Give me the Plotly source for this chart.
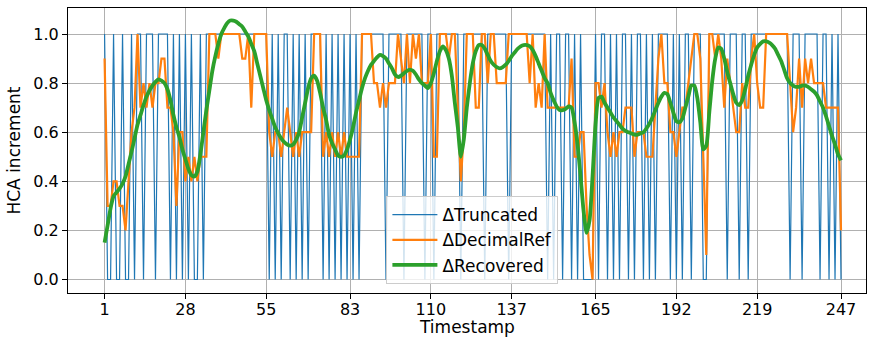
import plotly.graph_objects as go

timestamps = list(range(1, 248))

truncated = [
    1, 0, 0, 1, 0, 0, 1, 0, 0, 1,   # 1-10
    0, 1, 1, 0, 1, 1, 1, 0, 1, 1,   # 11-20
    1, 1, 0, 1, 0, 1, 0, 1, 0, 1,   # 21-30
    0, 0, 1, 0, 1, 1, 1, 1, 1, 1,   # 31-40
    1, 1, 1, 1, 1, 1, 1, 1, 1, 1,   # 41-50
    1, 1, 1, 1, 1, 0, 1, 0, 1, 0,   # 51-60
    1, 1, 0, 1, 0, 1, 0, 1, 0, 1,   # 61-70
    1, 1, 1, 0, 1, 0, 1, 0, 1, 0,   # 71-80
    1, 0, 1, 0, 1, 0, 1, 1, 1, 1,   # 81-90
    1, 1, 1, 1, 0, 1, 1, 1, 1, 1,   # 91-100
    0, 1, 1, 1, 1, 1, 1, 0, 1, 1,   # 101-110
    0, 1, 1, 1, 1, 1, 1, 1, 1, 0,   # 111-120
    1, 1, 1, 1, 1, 1, 1, 0, 1, 1,   # 121-130
    1, 1, 1, 1, 1, 0, 1, 1, 1, 1,   # 131-140
    1, 1, 1, 1, 1, 1, 1, 1, 0, 1,   # 141-150
    0, 1, 1, 0, 1, 1, 0, 1, 0, 1,   # 151-160
    0, 0, 0, 0, 1, 0, 1, 1, 0, 1,   # 161-170
    0, 1, 0, 1, 1, 0, 1, 0, 1, 1,   # 171-180
    0, 1, 0, 1, 0, 1, 1, 1, 1, 0,   # 181-190
    1, 0, 1, 0, 1, 1, 0, 1, 1, 1,   # 191-200
    0, 0, 1, 1, 1, 1, 1, 1, 0, 1,   # 201-210
    1, 1, 0, 1, 1, 0, 1, 1, 1, 1,   # 211-220
    1, 1, 1, 1, 1, 1, 1, 1, 1, 0,   # 221-230
    1, 1, 1, 0, 1, 1, 1, 1, 1, 0,   # 231-240
    1, 1, 0, 1, 0, 1, 0,            # 241-247
]

decimal_ref = [
    0.9, 0.3, 0.3, 0.4, 0.4, 0.3, 0.3, 0.2, 0.4, 0.6,   # 1-10
    0.7, 1.0, 0.7, 0.8, 0.7, 0.8, 0.7, 0.8, 0.8, 0.9,   # 11-20
    0.9, 0.7, 0.7, 0.6, 0.3, 0.6, 0.6, 0.4, 0.5, 0.4,   # 21-30
    0.5, 0.4, 0.5, 0.5, 0.5, 1.0, 1.0, 1.0, 0.9, 1.0,   # 31-40
    1.0, 1.0, 1.0, 1.0, 1.0, 1.0, 0.9, 0.9, 1.0, 0.7,   # 41-50
    1.0, 1.0, 1.0, 1.0, 1.0, 0.6, 0.5, 0.6, 0.6, 0.5,   # 51-60
    0.6, 0.7, 0.6, 0.5, 0.6, 0.5, 0.6, 0.6, 0.6, 0.6,   # 61-70
    1.0, 1.0, 1.0, 0.5, 0.6, 0.5, 0.6, 0.5, 0.6, 0.5,   # 71-80
    0.6, 0.5, 0.5, 0.5, 0.5, 0.5, 1.0, 1.0, 1.0, 1.0,   # 81-90
    0.8, 0.8, 0.7, 0.8, 0.7, 0.8, 0.8, 0.8, 1.0, 0.9,   # 91-100
    0.8, 1.0, 0.8, 1.0, 0.9, 1.0, 0.8, 0.8, 0.8, 1.0,   # 101-110
    0.5, 0.5, 1.0, 1.0, 1.0, 0.9, 1.0, 1.0, 0.7, 0.4,   # 111-120
    0.6, 1.0, 1.0, 1.0, 0.7, 0.7, 1.0, 1.0, 0.8, 1.0,   # 121-130
    1.0, 0.8, 0.8, 0.8, 0.8, 1.0, 1.0, 1.0, 1.0, 1.0,   # 131-140
    1.0, 1.0, 0.8, 1.0, 0.7, 0.8, 0.7, 1.0, 0.7, 0.7,   # 141-150
    0.7, 0.7, 0.7, 0.7, 0.7, 0.7, 0.9, 0.5, 0.5, 0.6,   # 151-160
    0.6, 0.3, 0.1, 0.0, 0.8, 0.8, 0.7, 0.8, 0.6, 0.5,   # 161-170
    0.6, 0.5, 0.6, 0.6, 0.7, 0.7, 0.7, 0.5, 0.6, 0.6,   # 171-180
    0.6, 0.5, 0.5, 0.5, 0.7, 0.9, 1.0, 0.8, 0.8, 0.6,   # 181-190
    0.6, 0.5, 0.6, 0.7, 0.7, 0.8, 0.9, 1.0, 1.0, 0.9,   # 191-200
    0.5, 0.1, 1.0, 1.0, 0.9, 1.0, 0.9, 0.7, 0.9, 0.8,   # 201-210
    0.7, 0.6, 0.6, 0.8, 0.7, 0.7, 0.9, 1.0, 0.8, 0.7,   # 211-220
    0.7, 1.0, 1.0, 1.0, 1.0, 1.0, 1.0, 1.0, 1.0, 0.8,   # 221-230
    0.6, 0.7, 0.9, 0.7, 0.9, 0.8, 0.9, 0.8, 0.8, 0.8,   # 231-240
    0.8, 0.7, 0.7, 0.7, 0.7, 0.7, 0.2,                  # 241-247
]

recovered = [
    0.15, 0.22, 0.29, 0.34, 0.355, 0.37, 0.39, 0.42, 0.47, 0.52,        # 1-10
    0.575, 0.63, 0.67, 0.71, 0.745, 0.77, 0.79, 0.805, 0.815, 0.81,     # 11-20
    0.80, 0.775, 0.73, 0.67, 0.62, 0.58, 0.53, 0.49, 0.45, 0.425,       # 21-30
    0.42, 0.44, 0.51, 0.60, 0.69, 0.77, 0.85, 0.91, 0.96, 1.00,         # 31-40
    1.025, 1.045, 1.055, 1.055, 1.05, 1.04, 1.03, 1.01, 0.99, 0.96,     # 41-50
    0.93, 0.88, 0.83, 0.78, 0.73, 0.69, 0.655, 0.62, 0.595, 0.575,      # 51-60
    0.56, 0.55, 0.545, 0.55, 0.57, 0.60, 0.66, 0.72, 0.78, 0.82,        # 61-70
    0.83, 0.81, 0.76, 0.70, 0.65, 0.59, 0.555, 0.53, 0.505, 0.50,       # 71-80
    0.505, 0.53, 0.57, 0.62, 0.68, 0.73, 0.78, 0.82, 0.85, 0.875,       # 81-90
    0.89, 0.905, 0.915, 0.91, 0.90, 0.88, 0.86, 0.835, 0.825, 0.83,     # 91-100
    0.84, 0.85, 0.855, 0.85, 0.835, 0.815, 0.80, 0.79, 0.78, 0.80,      # 101-110
    0.84, 0.89, 0.93, 0.95, 0.935, 0.90, 0.83, 0.72, 0.62, 0.50,        # 111-120
    0.57, 0.70, 0.80, 0.88, 0.93, 0.955, 0.955, 0.94, 0.915, 0.89,      # 121-130
    0.875, 0.865, 0.86, 0.865, 0.875, 0.89, 0.91, 0.925, 0.94, 0.95,    # 131-140
    0.955, 0.955, 0.95, 0.935, 0.91, 0.88, 0.85, 0.82, 0.80, 0.76,      # 141-150
    0.73, 0.705, 0.69, 0.69, 0.695, 0.705, 0.70, 0.64, 0.55, 0.42,      # 151-160
    0.28, 0.19, 0.24, 0.42, 0.63, 0.74, 0.745, 0.72, 0.70, 0.68,        # 161-170
    0.66, 0.645, 0.63, 0.615, 0.605, 0.60, 0.595, 0.59, 0.59, 0.595,    # 171-180
    0.60, 0.615, 0.635, 0.66, 0.69, 0.72, 0.745, 0.76, 0.755, 0.72,     # 181-190
    0.68, 0.645, 0.64, 0.655, 0.70, 0.745, 0.79, 0.79, 0.74, 0.64,      # 191-200
    0.53, 0.545, 0.68, 0.81, 0.90, 0.945, 0.94, 0.90, 0.845, 0.80,      # 201-210
    0.755, 0.72, 0.71, 0.73, 0.775, 0.83, 0.875, 0.915, 0.945, 0.96,    # 211-220
    0.97, 0.97, 0.965, 0.955, 0.94, 0.915, 0.89, 0.855, 0.82, 0.80,     # 221-230
    0.79, 0.785, 0.785, 0.79, 0.79, 0.785, 0.775, 0.765, 0.75, 0.725,   # 231-240
    0.70, 0.665, 0.625, 0.585, 0.55, 0.51, 0.485,                       # 241-247
]

x_tick_vals = [1, 28, 55, 83, 110, 137, 165, 192, 219, 247]
y_tick_vals = [0.0, 0.2, 0.4, 0.6, 0.8, 1.0]

FONT = "DejaVu Sans"

fig = go.Figure()
fig.add_trace(go.Scatter(x=timestamps, y=truncated, mode="lines", name="ΔTruncated",
                         line=dict(color="#1f77b4", width=1.2), legendgroup="a"))
fig.add_trace(go.Scatter(x=timestamps, y=decimal_ref, mode="lines", name="ΔDecimalRef",
                         line=dict(color="#ff7f0e", width=2.2), legendgroup="b"))
fig.add_trace(go.Scatter(x=timestamps, y=recovered, mode="lines", name="ΔRecovered",
                         line=dict(color="#2ca02c", width=3.8, shape="spline", smoothing=0.6),
                         legendgroup="c"))

axis_common = dict(
    showline=True, linecolor="black", linewidth=1, mirror=True,
    showgrid=True, gridcolor="#b0b0b0", gridwidth=0.8,
    ticks="outside", ticklen=5, tickcolor="black", tickwidth=1,
    zeroline=False, automargin=False,
    tickfont=dict(family=FONT, size=16, color="black"),
)

fig.update_layout(
    width=874, height=340,
    margin=dict(l=68, r=8, t=8, b=47),
    paper_bgcolor="white", plot_bgcolor="white",
    font=dict(family=FONT, size=16, color="black"),
    showlegend=True,
    legend=dict(
        x=0.399, y=0.031, xanchor="left", yanchor="bottom",
        bgcolor="rgba(255,255,255,0.8)", bordercolor="#cccccc", borderwidth=1,
        font=dict(family=FONT, size=17, color="black"),
        tracegroupgap=0, itemwidth=45,
    ),
    xaxis=dict(
        range=[-11.22, 255.35],
        tickmode="array", tickvals=x_tick_vals, ticktext=[str(v) for v in x_tick_vals],
        ticklabelstandoff=-3,
        **axis_common,
    ),
    yaxis=dict(
        range=[-0.055, 1.106],
        tickmode="array", tickvals=y_tick_vals, ticktext=[f"{v:.1f}" for v in y_tick_vals],
        title=dict(text="HCA increment", font=dict(family=FONT, size=17, color="black"), standoff=8),
        **axis_common,
    ),
    annotations=[dict(
        text="Timestamp", xref="paper", yref="paper", x=0.5, y=-0.163,
        xanchor="center", yanchor="bottom", showarrow=False,
        font=dict(family=FONT, size=17, color="black"),
    )],
)

fig.write_html("out.html")
